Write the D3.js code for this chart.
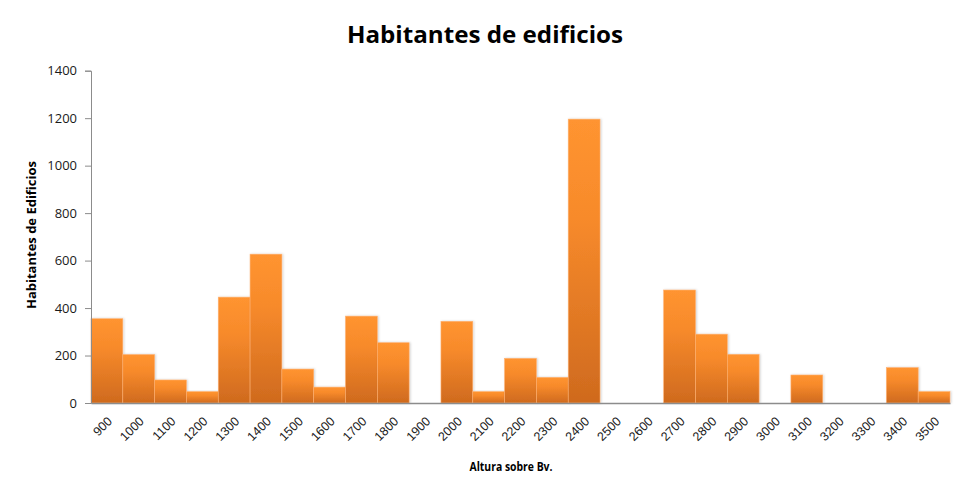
<!DOCTYPE html>
<html>
<head>
<meta charset="utf-8">
<script src="https://cdn.jsdelivr.net/npm/d3@7"></script>
<style>
  html, body { margin: 0; padding: 0; background: #fff; }
  svg { display: block; font-family: "Open Sans", "Liberation Sans", sans-serif; }
</style>
</head>
<body>
<svg id="chart" width="957" height="489"></svg>
<script>
// Altura sobre Bv. (categories) and number of inhabitants per band
const alturas = [900, 1000, 1100, 1200, 1300, 1400, 1500, 1600, 1700, 1800, 1900,
                 2000, 2100, 2200, 2300, 2400, 2500, 2600, 2700, 2800, 2900, 3000,
                 3100, 3200, 3300, 3400, 3500];
const habitantes = [355, 204, 97, 48, 446, 627, 143, 67, 366, 254, 0,
                    344, 48, 188, 108, 1196, 0, 0, 476, 290, 205, 0,
                    118, 0, 0, 149, 48];
const yTicks = [0, 200, 400, 600, 800, 1000, 1200, 1400];

const titulo = "Habitantes de edificios";
const tituloY = "Habitantes de Edificios";
const tituloX = "Altura sobre Bv.";

const svg = d3.select("#chart");
const m = { left: 91, right: 950, top: 70.7, bottom: 403 };

const x = d3.scaleBand()
  .domain(alturas.map(String))
  .range([m.left, m.right])
  .paddingInner(0)
  .paddingOuter(0);

const y = d3.scaleLinear()
  .domain([0, 1400])
  .range([m.bottom, m.top]);

// Vertical orange gradient used by every bar
const defs = svg.append("defs");
const grad = defs.append("linearGradient")
  .attr("id", "barGrad")
  .attr("x1", 0).attr("y1", 0).attr("x2", 0).attr("y2", 1);
grad.append("stop").attr("offset", "0%").attr("stop-color", "#ff9430");
grad.append("stop").attr("offset", "35%").attr("stop-color", "#f78a2b");
grad.append("stop").attr("offset", "100%").attr("stop-color", "#cf6a1e");

const shadow = defs.append("filter").attr("id", "barShadow")
  .attr("x", "-10%").attr("y", "-10%").attr("width", "130%").attr("height", "120%");
shadow.append("feDropShadow")
  .attr("dx", 1).attr("dy", 0).attr("stdDeviation", 0.8)
  .attr("flood-color", "#000").attr("flood-opacity", 0.18);

// Bars
svg.append("g")
  .selectAll("rect")
  .data(alturas.map((a, i) => ({ a: String(a), v: habitantes[i] })).filter(d => d.v > 0))
  .join("rect")
  .attr("x", d => x(d.a))
  .attr("y", d => y(d.v))
  .attr("width", x.bandwidth())
  .attr("height", d => y(0) - y(d.v))
  .attr("fill", "url(#barGrad)")
  .attr("stroke", "#ffb070")
  .attr("stroke-width", 0.6)
  .attr("filter", "url(#barShadow)");

// Y axis
const yAxis = svg.append("g")
  .attr("transform", `translate(${m.left},0)`)
  .call(d3.axisLeft(y).tickValues(yTicks).tickSize(6).tickPadding(8).tickFormat(d3.format("d")));
yAxis.select(".domain").attr("stroke", "#8c8c8c");
yAxis.selectAll(".tick line").attr("stroke", "#8c8c8c");
yAxis.selectAll(".tick text")
  .attr("font-size", 13)
  .attr("fill", "#1a1a1a")
  .attr("font-family", "'Open Sans', sans-serif");

// X axis
const xAxis = svg.append("g")
  .attr("transform", `translate(0,${m.bottom})`)
  .call(d3.axisBottom(x).tickSize(0).tickPadding(0));
xAxis.select(".domain").attr("stroke", "#8c8c8c").attr("stroke-width", 1.5);
xAxis.selectAll(".tick text")
  .attr("font-size", 12.5)
  .attr("fill", "#1a1a1a")
  .attr("text-anchor", "end")
  .attr("dy", 0)
  .attr("transform", "translate(6,19) rotate(-45)");

// Titles
svg.append("text")
  .attr("x", 485).attr("y", 43)
  .attr("text-anchor", "middle")
  .attr("font-weight", "bold")
  .attr("font-size", 24)
  .attr("textLength", 276)
  .attr("lengthAdjust", "spacingAndGlyphs")
  .attr("fill", "#000")
  .text(titulo);

svg.append("text")
  .attr("transform", "translate(36,235) rotate(-90)")
  .attr("text-anchor", "middle")
  .attr("font-weight", "bold")
  .attr("font-size", 12)
  .attr("textLength", 148)
  .attr("lengthAdjust", "spacingAndGlyphs")
  .attr("fill", "#000")
  .text(tituloY);

svg.append("text")
  .attr("x", 511).attr("y", 471)
  .attr("text-anchor", "middle")
  .attr("font-weight", "bold")
  .attr("font-size", 12)
  .attr("textLength", 83)
  .attr("lengthAdjust", "spacingAndGlyphs")
  .attr("fill", "#000")
  .text(tituloX);
</script>
</body>
</html>
